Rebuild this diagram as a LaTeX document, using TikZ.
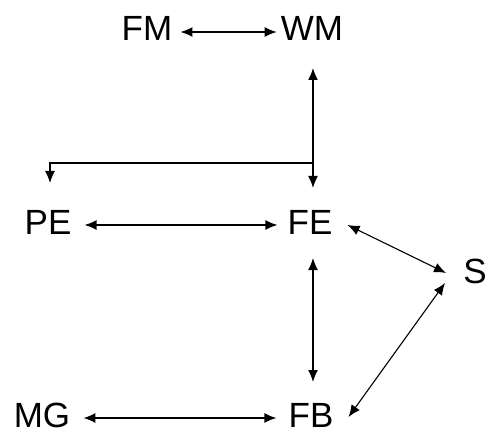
\documentclass[tikz,border=0pt]{standalone}
\usepackage{fontspec}
\setmainfont{Liberation Sans}
\usetikzlibrary{arrows.meta}
\begin{document}
\begin{tikzpicture}[x=1pt,y=1pt,
  lbl/.style={inner sep=0pt,text height=25pt,text depth=0pt,font=\fontsize{35}{35}\selectfont},
  arr/.style={line width=1.4pt,{Latex[length=12pt,width=10pt]}-{Latex[length=12pt,width=10pt]}},
  arrone/.style={line width=1.4pt,-{Latex[length=12pt,width=10pt]}}]
\useasboundingbox (0,0) rectangle (489,434);
\node[lbl] (fm) at (147,406) {FM};
\node[lbl] (wm) at (312,406) {WM};
\node[lbl] (pe) at (48,212) {PE};
\node[lbl] (fe) at (310,212) {FE};
\node[lbl] (s) at (475,163) {S};
\node[lbl] (mg) at (42,19) {MG};
\node[lbl] (fb) at (311,19) {FB};
% top horizontal
\draw[arr] ([xshift=8pt,yshift=-4pt]fm.east) -- ([xshift=-4pt,yshift=-4pt]wm.west);
% WM - FE vertical
\coordinate (v1) at (313,366);
\coordinate (v2) at (313,246);
\draw[arr] (v1) -- (v2);
% bend to PE
\coordinate (b0) at (313,271);
\coordinate (b1) at (50,251);
\draw[arrone,line width=1.1pt] (b0) -| (b1);
% PE - FE
\draw[arr] ([xshift=13pt,yshift=-3pt]pe.east) -- ([xshift=-10pt,yshift=-3pt]fe.west);
% FE - S
\coordinate (s1) at (446,161);
\draw[arr,line width=1.1pt] ([xshift=15pt,yshift=-3pt]fe.east) -- (s1);
% FE - FB vertical
\coordinate (v3) at (313,176);
\coordinate (v4) at (313,52);
\draw[arr] (v3) -- (v4);
% S - FB
\coordinate (s2) at (445,151);
\draw[arr,line width=1.1pt] (s2) -- ([xshift=15pt,yshift=-2pt]fb.east);
% MG - FB
\draw[arr] ([xshift=13pt,yshift=-3pt]mg.east) -- ([xshift=-12pt,yshift=-3pt]fb.west);
\end{tikzpicture}
\end{document}
